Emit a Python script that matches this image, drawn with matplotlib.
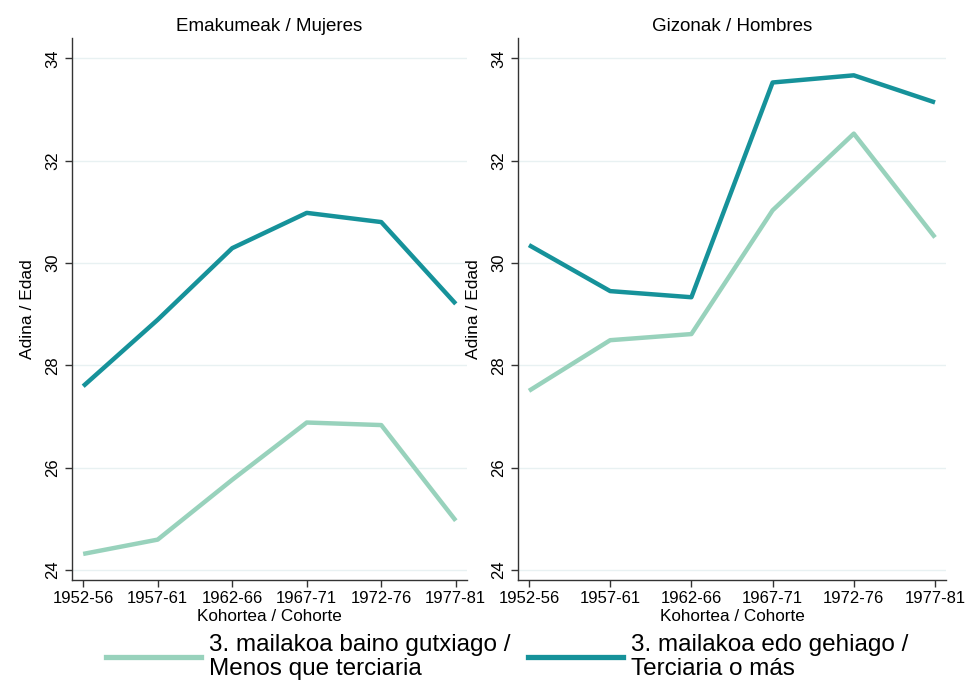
import matplotlib
matplotlib.use('Agg')
import matplotlib.pyplot as plt

plt.rcParams['font.family'] = ['Liberation Sans', 'DejaVu Sans']

cohorts = ['1952-56', '1957-61', '1962-66', '1967-71', '1972-76', '1977-81']
panel_titles = ['Emakumeak / Mujeres', 'Gizonak / Hombres']
series_labels = ['3. mailakoa baino gutxiago /\nMenos que terciaria',
                 '3. mailakoa edo gehiago /\nTerciaria o más']

# mean age by cohort, women
women_low = [24.31, 24.59, 25.76, 26.88, 26.83, 24.96]
women_high = [27.59, 28.89, 30.29, 30.98, 30.80, 29.20]
# mean age by cohort, men
men_low = [27.50, 28.49, 28.61, 31.03, 32.53, 30.50]
men_high = [30.35, 29.45, 29.33, 33.53, 33.67, 33.14]

col_low = '#98d2bc'
col_high = '#16929a'
yticks = [24, 26, 28, 30, 32, 34]

fig = plt.figure(figsize=(9.65, 6.81), dpi=100)
ax1 = fig.add_axes([0.0746, 0.1483, 0.4093, 0.7959])
ax2 = fig.add_axes([0.5368, 0.1483, 0.4435, 0.7959])

x = list(range(len(cohorts)))
for ax, title, low, high in [(ax1, panel_titles[0], women_low, women_high),
                             (ax2, panel_titles[1], men_low, men_high)]:
    ax.plot(x, low, color=col_low, lw=3.2, solid_capstyle='butt', zorder=3)
    ax.plot(x, high, color=col_high, lw=3.2, solid_capstyle='butt', zorder=3)
    ax.set_ylim(23.8, 34.4)
    ax.set_yticks(yticks)
    ax.set_yticklabels([str(t) for t in yticks], rotation=90, va='center')
    ax.set_xticks(x)
    ax.set_xticklabels(cohorts)
    ax.grid(axis='y', color='#e8f1f2', lw=1)
    ax.set_axisbelow(True)
    for s in ['top', 'right']:
        ax.spines[s].set_visible(False)
    for s in ['left', 'bottom']:
        ax.spines[s].set_color('#333333')
        ax.spines[s].set_linewidth(1.0)
    ax.tick_params(axis='both', labelsize=12, length=5, color='#333333', width=1)
    ax.tick_params(axis='x', pad=3)
    ax.set_title(title, fontsize=13.5, pad=5)
    ax.set_xlabel('Kohortea / Cohorte', fontsize=12.3, labelpad=2)
    ax.set_ylabel('Adina / Edad', fontsize=12.5, labelpad=7)

ax1.set_xlim(-0.15, 5.15)
ax2.set_xlim(-0.135, 5.135)

leg_handles = [plt.Line2D([], [], color=col_low, lw=3.8),
               plt.Line2D([], [], color=col_high, lw=3.8)]
leg = fig.legend(leg_handles, series_labels, loc='lower left', ncol=2,
                 bbox_to_anchor=(0.087, -0.03), frameon=False, fontsize=17.5,
                 handlelength=3.9, handletextpad=0.34, columnspacing=0.72)
for t in leg.get_texts():
    t.set_linespacing(1.12)

fig.savefig('out.png', dpi=100, facecolor='white')
